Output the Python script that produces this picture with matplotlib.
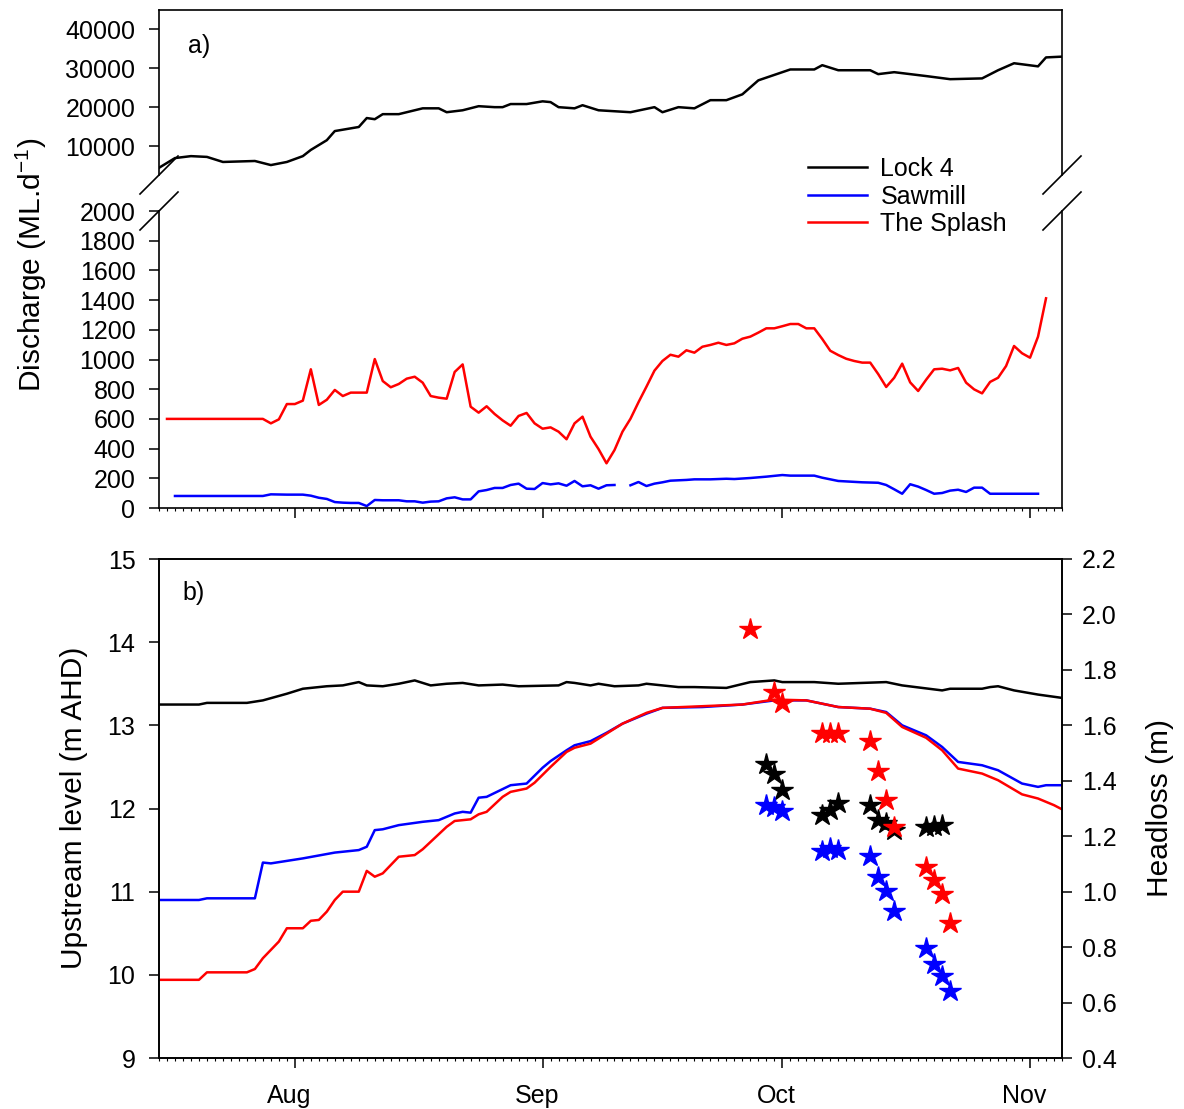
import numpy as np
import matplotlib.pyplot as plt
import matplotlib.dates as mdates
from matplotlib.lines import Line2D
from matplotlib.transforms import ScaledTranslation

plt.rcParams['font.family'] = ['Liberation Sans', 'DejaVu Sans']

# all series are given as days counted from 15 July
start = np.datetime64('2019-07-15')
n_days = 113

# a) discharge, ML/d
lock4_q_days = [0, 2, 4, 6, 8, 12, 14, 16, 18, 19, 21, 22, 25, 26, 27, 28, 30, 33, 35, 36,
                38, 40, 42, 43, 44, 46, 48, 49, 50, 52, 53, 55, 59, 62, 63, 65, 67, 69, 71, 73,
                75, 78, 79, 82, 83, 85, 89, 90, 92, 96, 99, 103, 105, 107, 110, 111, 113]
lock4_q = [4400, 6900, 7400, 7200, 5900, 6150, 5100, 5900, 7400, 9000, 11500, 13850, 14900, 17200,
           16900, 18200, 18200, 19700, 19700, 18700, 19200, 20250, 20000, 20000, 20800, 20800,
           21500, 21300, 20000, 19700, 20500, 19200, 18700, 20000, 18700, 20000, 19700, 21800,
           21800, 23300, 26900, 29000, 29700, 29700, 30800, 29500, 29500, 28500, 29000, 28000,
           27200, 27400, 29500, 31300, 30500, 32800, 33000]

sawmill_q_days = [2, 13, 14, 16, 18, 19, 20, 21, 22, 23, 24, 25, 26, 27, 28, 30, 31, 32, 33, 34,
                  35, 36, 37, 38, 39, 40, 41, 42, 43, 44, 45, 46, 47, 48, 49, 50, 51, 52, 53, 54,
                  55, 56, 57, 58, 59, 60, 61, 62, 63, 64, 66, 67, 69, 71, 72, 74, 76, 78, 79, 82,
                  83, 84, 85, 88, 90, 91, 92, 93, 94, 95, 96, 97, 98, 99, 100, 101, 102, 103, 104, 110]
sawmill_q = [81, 81, 92, 90, 90, 83, 69, 61, 40, 36, 34, 34, 13, 54, 52, 52, 45, 45, 36, 43,
             45, 65, 72, 58, 58, 112, 121, 135, 135, 155, 164, 130, 128, 168, 159, 166, 150, 182, 146, 153,
             130, 153, 155, np.nan, 153, 175, 148, 164, 173, 184, 189, 193, 193, 197, 195, 202, 211, 222, 218, 218,
             204, 193, 182, 173, 170, 155, 126, 96, 160, 144, 121, 96, 101, 117, 123, 108, 137, 137, 96, 96]

splash_q_days = list(range(1, 112))
splash_q = [600, 600, 600, 600, 600, 600, 600, 600, 600, 600, 600, 600, 600, 570, 597, 700, 700, 723,
            934, 694, 729, 795, 754, 777, 777, 777, 1003, 855, 813, 835, 871, 884, 844, 754, 743, 736,
            916, 967, 682, 642, 685, 633, 590, 554, 620, 640, 570, 534, 543, 514, 463, 570, 615, 480,
            397, 301, 390, 514, 601, 712, 817, 925, 990, 1032, 1019, 1062, 1046, 1086, 1098, 1113,
            1098, 1109, 1140, 1154, 1181, 1210, 1210, 1224, 1239, 1239, 1210, 1210, 1138, 1059, 1030,
            1005, 990, 979, 979, 902, 815, 877, 972, 846, 788, 864, 934, 938, 927, 943, 844, 799, 772,
            849, 877, 956, 1091, 1042, 1012, 1154, 1412]

# b) upstream level, m AHD
lock4_h_days = [0, 5, 6, 11, 13, 16, 18, 21, 23, 25, 26, 28, 30, 32, 34, 36, 38, 40, 43, 45, 50, 51,
                52, 54, 55, 57, 60, 61, 63, 65, 67, 71, 74, 77, 78, 82, 85, 91, 93, 98, 99, 103, 104,
                105, 107, 110, 113]
lock4_h = [13.25, 13.25, 13.27, 13.27, 13.30, 13.38, 13.44, 13.47, 13.48, 13.52, 13.48, 13.47, 13.50,
           13.54, 13.48, 13.50, 13.51, 13.48, 13.49, 13.47, 13.48, 13.52, 13.51, 13.48, 13.50, 13.47,
           13.48, 13.50, 13.48, 13.46, 13.46, 13.45, 13.52, 13.54, 13.52, 13.52, 13.50, 13.52, 13.48,
           13.42, 13.44, 13.44, 13.46, 13.47, 13.42, 13.37, 13.33]

sawmill_h_days = [0, 5, 6, 12, 13, 14, 18, 22, 25, 26, 27, 28, 30, 33, 35, 37, 38, 39, 40, 41, 44, 46,
                  48, 49, 51, 52, 54, 56, 58, 61, 63, 68, 73, 77, 81, 85, 89, 91, 93, 96, 98, 100, 103,
                  105, 108, 110, 111, 113]
sawmill_h = [10.90, 10.90, 10.92, 10.92, 11.35, 11.34, 11.40, 11.47, 11.50, 11.54, 11.74, 11.75, 11.80,
             11.84, 11.86, 11.94, 11.96, 11.95, 12.13, 12.14, 12.28, 12.30, 12.49, 12.57, 12.70, 12.76,
             12.81, 12.91, 13.02, 13.14, 13.21, 13.22, 13.25, 13.30, 13.30, 13.22, 13.20, 13.16, 13.00,
             12.88, 12.74, 12.56, 12.52, 12.46, 12.30, 12.26, 12.28, 12.28]

splash_h_days = [0, 5, 6, 11, 12, 13, 15, 16, 18, 19, 20, 21, 22, 23, 25, 26, 27, 28, 30, 32, 33, 34,
                 36, 37, 39, 40, 41, 43, 44, 46, 47, 49, 51, 52, 54, 56, 58, 61, 63, 68, 73, 77, 81,
                 85, 89, 91, 93, 96, 98, 100, 103, 105, 108, 110, 112, 113]
splash_h = [9.94, 9.94, 10.03, 10.03, 10.07, 10.20, 10.40, 10.56, 10.56, 10.65, 10.66, 10.76, 10.90,
            11.00, 11.00, 11.25, 11.18, 11.22, 11.42, 11.44, 11.51, 11.60, 11.78, 11.85, 11.87, 11.93,
            11.96, 12.14, 12.20, 12.24, 12.31, 12.50, 12.68, 12.73, 12.78, 12.90, 13.02, 13.15, 13.21,
            13.23, 13.25, 13.31, 13.30, 13.22, 13.20, 13.15, 12.98, 12.85, 12.70, 12.48, 12.42, 12.34,
            12.17, 12.12, 12.04, 11.99]

# headloss, m (stars)
lock4_hl_days = [76, 77, 78, 83, 84, 85, 89, 90, 91, 92, 96, 97, 98]
lock4_hl = [1.461, 1.425, 1.367, 1.275, 1.295, 1.321, 1.314, 1.259, 1.247, 1.223, 1.233, 1.236, 1.242]
sawmill_hl_days = [76, 77, 78, 83, 84, 85, 89, 90, 91, 92, 96, 97, 98, 99]
sawmill_hl = [1.311, 1.305, 1.290, 1.146, 1.158, 1.149, 1.127, 1.053, 1.002, 0.930, 0.795, 0.739,
              0.695, 0.642]
splash_hl_days = [74, 77, 78, 83, 84, 85, 89, 90, 91, 92, 96, 97, 98, 99]
splash_hl = [1.947, 1.722, 1.679, 1.571, 1.571, 1.571, 1.542, 1.434, 1.331, 1.233, 1.089, 1.043,
             0.993, 0.887]


def dates(days):
    return start + np.array(days).astype('timedelta64[D]')


W, H = 1184, 1109
fig = plt.figure(figsize=(W / 100, H / 100), dpi=100)


def box(l, t, r, b):
    return [l / W, 1 - b / H, (r - l) / W, (b - t) / H]


ax_hi = fig.add_axes(box(159, 10, 1062, 175))
ax_lo = fig.add_axes(box(159, 211, 1062, 508))
ax_b = fig.add_axes(box(159, 559, 1062, 1058))
ax_r = ax_b.twinx()

lw = 1.8
# top panel
ax_hi.plot(dates(lock4_q_days), lock4_q, color='k', lw=lw)
ax_lo.plot(dates(sawmill_q_days), sawmill_q, color='#0000ff', lw=lw)
ax_lo.plot(dates(splash_q_days), splash_q, color='#ff0000', lw=lw)

# bottom panel
ax_b.plot(dates(lock4_h_days), lock4_h, color='k', lw=lw)
ax_b.plot(dates(sawmill_h_days), sawmill_h, color='#0000ff', lw=lw)
ax_b.plot(dates(splash_h_days), splash_h, color='#ff0000', lw=lw)
for d, v, c in [(lock4_hl_days, lock4_hl, 'k'), (sawmill_hl_days, sawmill_hl, '#0000ff'),
                (splash_hl_days, splash_hl, '#ff0000')]:
    ax_r.plot(dates(d), v, ls='none', marker='*', ms=16, color=c, mec=c)

xlim = (start, start + np.timedelta64(n_days, 'D'))
for ax in (ax_hi, ax_lo, ax_b, ax_r):
    ax.set_xlim(*xlim)
    for s in ax.spines.values():
        s.set_linewidth(1.2)
    ax.tick_params(direction='out', length=7.5, width=1.1, labelsize=18, pad=9.5)
    ax.tick_params(which='minor', direction='out', length=2, width=0.8)

ax_hi.set_ylim(2545, 45000)
ax_hi.set_yticks([10000, 20000, 30000, 40000])
ax_hi.spines['bottom'].set_visible(False)
ax_hi.tick_params(axis='x', which='both', bottom=False, labelbottom=False)

ax_lo.set_ylim(0, 2000)
ax_lo.set_yticks(np.arange(0, 2001, 200))
ax_lo.spines['top'].set_visible(False)

for ax in (ax_lo, ax_b):
    ax.xaxis.set_major_locator(mdates.MonthLocator())
    ax.xaxis.set_minor_locator(mdates.DayLocator())
ax_lo.tick_params(axis='x', labelbottom=False)
ax_b.xaxis.set_major_formatter(mdates.DateFormatter('%b'))
ax_b.tick_params(axis='x', pad=11)
for lbl in ax_b.get_xticklabels():
    lbl.set_transform(lbl.get_transform() + ScaledTranslation(-6 / 100, 0, fig.dpi_scale_trans))

ax_b.set_ylim(9, 15)
ax_b.set_yticks(range(9, 16))
ax_r.set_ylim(0.4, 2.2)
ax_r.set_yticks(np.round(np.arange(0.4, 2.21, 0.2), 1))
ax_r.yaxis.set_major_formatter(plt.FormatStrFormatter('%.1f'))
ax_r.tick_params(axis='y', pad=7)

# axis break marks
for cx, cy in [(159, 175), (159, 211), (1062, 175), (1062, 211)]:
    fig.add_artist(Line2D([(cx - 19) / W, (cx + 19) / W], [1 - (cy + 19) / H, 1 - (cy - 19) / H],
                          color='k', lw=1.2))

handles = [Line2D([], [], color='k', lw=lw, label='Lock 4'),
           Line2D([], [], color='#0000ff', lw=lw, label='Sawmill'),
           Line2D([], [], color='#ff0000', lw=lw, label='The Splash')]
fig.legend(handles=handles, loc='upper left', bbox_to_anchor=(808 / W, 1 - 157 / H), frameon=False,
           fontsize=18, handlelength=2.35, handletextpad=0.55, labelspacing=0.14,
           borderpad=0, borderaxespad=0)

fig.text(31 / W, 1 - 265 / H, 'Discharge (ML.d$^{\\mathregular{-1}}$)', rotation=90,
         ha='center', va='center', fontsize=21.5)
fig.text(74 / W, 1 - 808 / H, 'Upstream level (m AHD)', rotation=90,
         ha='center', va='center', fontsize=21.5)
fig.text(1160 / W, 1 - 808 / H, 'Headloss (m)', rotation=90,
         ha='center', va='center', fontsize=21.5)
fig.text(188 / W, 1 - 45.5 / H, 'a)', ha='left', va='center', fontsize=18)
fig.text(182 / W, 1 - 593 / H, 'b)', ha='left', va='center', fontsize=18)

fig.savefig('out.png', dpi=100)
